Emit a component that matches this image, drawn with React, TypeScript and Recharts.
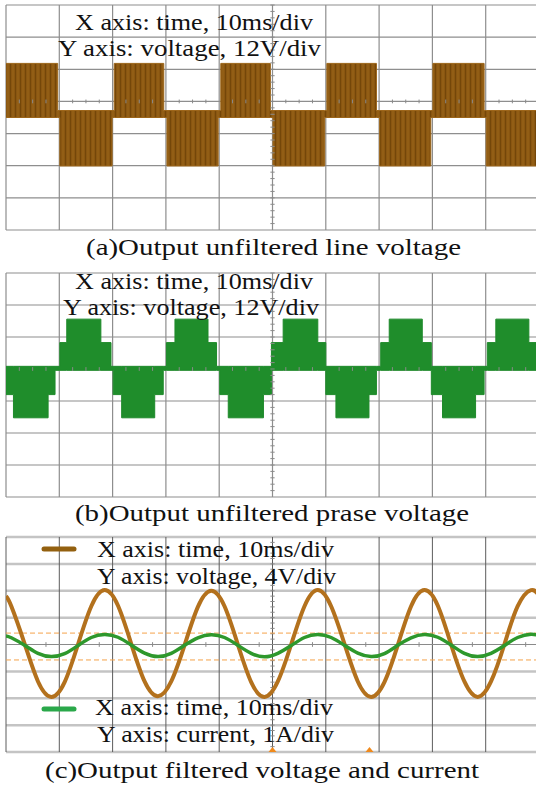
import React from 'react';
import {
  ComposedChart,
  Area,
  Line,
  XAxis,
  YAxis,
  CartesianGrid,
  ReferenceLine,
  ReferenceDot,
} from 'recharts';

// time base: 10 ms/div, 10 divisions
const timeTicks = [0, 10, 20, 30, 40, 50, 60, 70, 80, 90, 100];

// (a) line voltage, 12 V/div — step breakpoints (ms) with band [low, high] in volts
const lineT = [0, 9.7, 10.1, 19.9, 20.3, 29.6, 30.2, 39.8, 40.3, 49.6, 50.1, 59.8, 60.2, 69.5, 70.1, 79.7, 80.1, 89.7, 90.1, 100];
const lineLo = [-6.0, -6.0, -24.1, -6.0, -6.0, -6.0, -24.1, -6.0, -6.0, -6.0, -24.1, -6.0, -6.0, -6.0, -24.1, -6.0, -6.0, -6.0, -24.1, -24.1];
const lineHi = [14.2, -3.4, -3.4, -3.4, 14.2, -3.4, -3.4, -3.4, 14.2, -3.4, -3.4, -3.4, 14.2, -3.4, -3.4, -3.4, 14.2, -3.4, -3.4, -3.4];

// (b) phase voltage, 12 V/div
const phaseT = [0, 1.4, 7.9, 9.2, 10.1, 11.4, 17.8, 19.7, 20.1, 21.7, 27.9, 29.5, 30.1, 31.7, 37.9, 39.5, 40.1, 41.7, 48.3, 49.8, 52.0, 58.5, 60.0, 61.9, 68.1, 69.5, 70.3, 71.9, 78.1, 79.8, 81.9, 88.1, 89.7, 90.3, 91.9, 98.1, 100];
const phaseLo = [-9.6, -18.3, -9.6, -0.5, -0.5, -0.5, -0.5, -0.5, -9.6, -18.3, -9.6, -0.5, -0.5, -0.5, -0.5, -0.5, -9.6, -18.3, -9.6, -0.5, -0.5, -0.5, -9.6, -18.3, -9.6, -0.5, -0.5, -0.5, -0.5, -9.6, -18.3, -9.6, -0.5, -0.5, -0.5, -0.5, -0.5];
const phaseHi = [1.0, 1.0, 1.0, 1.0, 9.9, 18.7, 9.9, 1.0, 1.0, 1.0, 1.0, 1.0, 9.9, 18.7, 9.9, 1.0, 1.0, 1.0, 1.0, 9.9, 18.7, 9.9, 1.0, 1.0, 1.0, 1.0, 9.9, 18.7, 9.9, 1.0, 1.0, 1.0, 1.0, 9.9, 18.7, 9.9, 9.9];

// (c) filtered voltage (4 V/div) and current (1 A/div)
const filtT = [0, 1, 3.5, 6, 8.5, 11, 13.5, 16, 18.5, 21, 23.5, 26, 28.5, 31, 33.5, 36, 38.5, 41, 43.5, 46, 48.5, 51, 53.5, 56, 58.5, 61, 63.5, 66, 68.5, 71, 73.5, 76, 78.5, 81, 83.5, 86, 88.5, 91, 93.5, 96, 98.5, 100];
const filtVolt = [7.2, 5.7, 0.1, -5.5, -7.8, -5.6, 0.0, 5.7, 8.1, 5.8, 0.1, -5.5, -7.7, -5.5, -0.1, 5.6, 8.0, 5.7, 0.0, -5.6, -7.8, -5.5, 0.0, 5.7, 8.1, 5.7, 0.1, -5.5, -7.8, -5.6, -0.1, 5.7, 8.1, 5.8, 0.0, -5.5, -7.8, -5.5, 0.0, 5.7, 8.1, 7.3];
const filtCurr = [0.32, 0.25, -0.03, -0.33, -0.45, -0.34, -0.04, 0.26, 0.37, 0.27, -0.02, -0.32, -0.45, -0.33, -0.03, 0.25, 0.36, 0.26, -0.03, -0.33, -0.46, -0.33, -0.04, 0.26, 0.37, 0.26, -0.03, -0.32, -0.45, -0.34, -0.03, 0.25, 0.37, 0.27, -0.02, -0.33, -0.45, -0.33, -0.04, 0.26, 0.38, 0.33];

const cursorLevels = [1.7, -2.3];
const triggerMarks = [50, 68.2];

const volt12Ticks = [-48, -36, -24, -12, 0, 12, 24, 36];
const volt4Ticks = [-16, -12, -8, -4, 4, 8, 12, 16];

const lineData = lineT.map((t, i) => ({ t, band: [lineLo[i], lineHi[i]] }));
const phaseData = phaseT.map((t, i) => ({ t, band: [phaseLo[i], phaseHi[i]] }));
const filtData = filtT.map((t, i) => ({ t, v: filtVolt[i], i: filtCurr[i] }));

const serif = '"Liberation Serif", "Times New Roman", serif';
const tickColor = '#8a8a8a';

// small graticule ticks along the centre axes
const hTicks = (step: number, from: number) => {
  const out: number[] = [];
  for (let t = from; t < 100; t += step) if (t % 10 !== 0) out.push(t);
  return out;
};
const vTicks = (step: number, lo: number, hi: number) => {
  const out: number[] = [];
  for (let v = lo + step; v < hi; v += step) out.push(Math.round(v * 100) / 100);
  return out;
};

function renderTicks(hs: number[], hHalf: number, vs: number[], vHalf: number) {
  return [
    ...hs.map((t) => (
      <ReferenceLine
        key={'h' + t}
        segment={[{ x: t, y: -hHalf }, { x: t, y: hHalf }]}
        stroke={tickColor}
        strokeWidth={1}
      />
    )),
    ...vs.map((v) => (
      <ReferenceLine
        key={'v' + v}
        segment={[{ x: 50 - vHalf, y: v }, { x: 50 + vHalf, y: v }]}
        stroke={tickColor}
        strokeWidth={1}
      />
    )),
  ];
}

const Triangle = (props: any) => {
  const { cx, cy } = props;
  return <path d={`M${cx - 4},${cy} L${cx + 4},${cy} L${cx},${cy - 5} Z`} fill="#f08a1c" />;
};

const Txt = ({ x, y, w, children }: any) => (
  <text x={x} y={y} textLength={w} lengthAdjust="spacingAndGlyphs">
    {children}
  </text>
);

export default function App() {
  return (
    <div
      style={{
        position: 'fixed',
        left: 0,
        top: 0,
        width: 536,
        height: 787,
        overflow: 'hidden',
        background: '#ffffff',
      }}
    >
      {/* (a) unfiltered line voltage */}
      <div style={{ position: 'absolute', left: 0, top: 0 }}>
        <ComposedChart width={560} height={235} data={lineData} margin={{ top: 5, right: 21, bottom: 5, left: 6 }}>
          <defs>
            <pattern id="brownStripes" width="5" height="8" patternUnits="userSpaceOnUse">
              <rect width="5" height="8" fill="#8a5611" />
              <rect x="0" width="1" height="8" fill="#744709" />
              <rect x="2.5" width="1" height="8" fill="#9b6519" />
            </pattern>
          </defs>
          <CartesianGrid stroke="#8e8e8e" strokeWidth={1.2} />
          <XAxis type="number" dataKey="t" domain={[0, 100]} ticks={timeTicks} hide allowDataOverflow />
          <YAxis type="number" domain={[-48, 36]} ticks={volt12Ticks} hide allowDataOverflow />
          {renderTicks(hTicks(2.5, 2.5), 0.7, vTicks(2.4, -48, 36), 0.4)}
          <Area
            type="stepAfter"
            dataKey="band"
            stroke="#9c6519"
            strokeWidth={1}
            fill="url(#brownStripes)"
            fillOpacity={1}
            isAnimationActive={false}
          />
        </ComposedChart>
      </div>

      {/* (b) unfiltered phase voltage */}
      <div style={{ position: 'absolute', left: 0, top: 268 }}>
        <ComposedChart width={560} height={234} data={phaseData} margin={{ top: 5, right: 21, bottom: 5, left: 6 }}>
          <CartesianGrid stroke="#8e8e8e" strokeWidth={1.2} />
          <XAxis type="number" dataKey="t" domain={[0, 100]} ticks={timeTicks} hide allowDataOverflow />
          <YAxis type="number" domain={[-48, 36]} ticks={volt12Ticks} hide allowDataOverflow />
          {renderTicks(hTicks(2.5, 2.5), 0.7, vTicks(2.4, -48, 36), 0.4)}
          <Area
            type="stepAfter"
            dataKey="band"
            stroke="#1f8a2b"
            strokeWidth={1}
            fill="#1f8d2b"
            fillOpacity={1}
            isAnimationActive={false}
          />
        </ComposedChart>
      </div>

      {/* (c) filtered voltage and current */}
      <div style={{ position: 'absolute', left: 0, top: 531 }}>
        <ComposedChart width={560} height={226} data={filtData} margin={{ top: 6, right: 21, bottom: 5, left: 6 }}>
          <CartesianGrid vertical={false} stroke="#c4c4c4" strokeWidth={2.5} />
          <CartesianGrid horizontal={false} stroke="#5c5c5c" strokeWidth={1} />
          <XAxis type="number" dataKey="t" domain={[0, 100]} ticks={timeTicks} hide allowDataOverflow />
          <YAxis type="number" domain={[-16, 16]} ticks={volt4Ticks} hide allowDataOverflow />
          <YAxis yAxisId="i" type="number" domain={[-4, 4]} hide allowDataOverflow />
          <ReferenceLine y={0} stroke="#8a8a8a" strokeWidth={1} />
          {renderTicks(hTicks(10, 7.5), 0.35, vTicks(0.8, -16, 16), 0.4)}
          {cursorLevels.map((y) => (
            <ReferenceLine key={y} y={y} stroke="#f5a24a" strokeWidth={1} strokeDasharray="5 3" />
          ))}
          <Line
            type="natural"
            dataKey="v"
            stroke="#b3711d"
            strokeWidth={4}
            dot={false}
            isAnimationActive={false}
          />
          <Line
            yAxisId="i"
            type="natural"
            dataKey="i"
            stroke="#2e982c"
            strokeWidth={3.5}
            dot={false}
            isAnimationActive={false}
          />
          {triggerMarks.map((t) => (
            <ReferenceDot key={t} x={t} y={-16} r={4} shape={Triangle} ifOverflow="visible" />
          ))}
        </ComposedChart>
      </div>

      {/* captions and channel notes */}
      <svg
        width={536}
        height={787}
        style={{ position: 'absolute', left: 0, top: 0, pointerEvents: 'none' }}
        fontFamily={serif}
        fill="#111"
      >
        <g fontSize={22.5}>
          <Txt x={75} y={30} w={238}>X axis: time, 10ms/div</Txt>
          <Txt x={58} y={56} w={263}>Y axis: voltage, 12V/div</Txt>
          <Txt x={75} y={289} w={238}>X axis: time, 10ms/div</Txt>
          <Txt x={63} y={315} w={256}>Y axis: voltage, 12V/div</Txt>
          <Txt x={97} y={557} w={237}>X axis: time, 10ms/div</Txt>
          <Txt x={97} y={584} w={239}>Y axis: voltage, 4V/div</Txt>
          <Txt x={95} y={715} w={238}>X axis: time, 10ms/div</Txt>
          <Txt x={97} y={742} w={237}>Y axis: current, 1A/div</Txt>
        </g>
        <line x1={44} y1={549} x2={74} y2={549} stroke="#93600f" strokeWidth={5} strokeLinecap="round" />
        <line x1={44} y1={709} x2={74} y2={709} stroke="#2aa84a" strokeWidth={5} strokeLinecap="round" />
        <g fontSize={23.5}>
          <Txt x={86} y={255} w={375}>(a)Output unfiltered line voltage</Txt>
          <Txt x={75} y={521} w={394}>(b)Output unfiltered prase voltage</Txt>
          <Txt x={45} y={778} w={434}>(c)Output filtered voltage and current</Txt>
        </g>
      </svg>
    </div>
  );
}
